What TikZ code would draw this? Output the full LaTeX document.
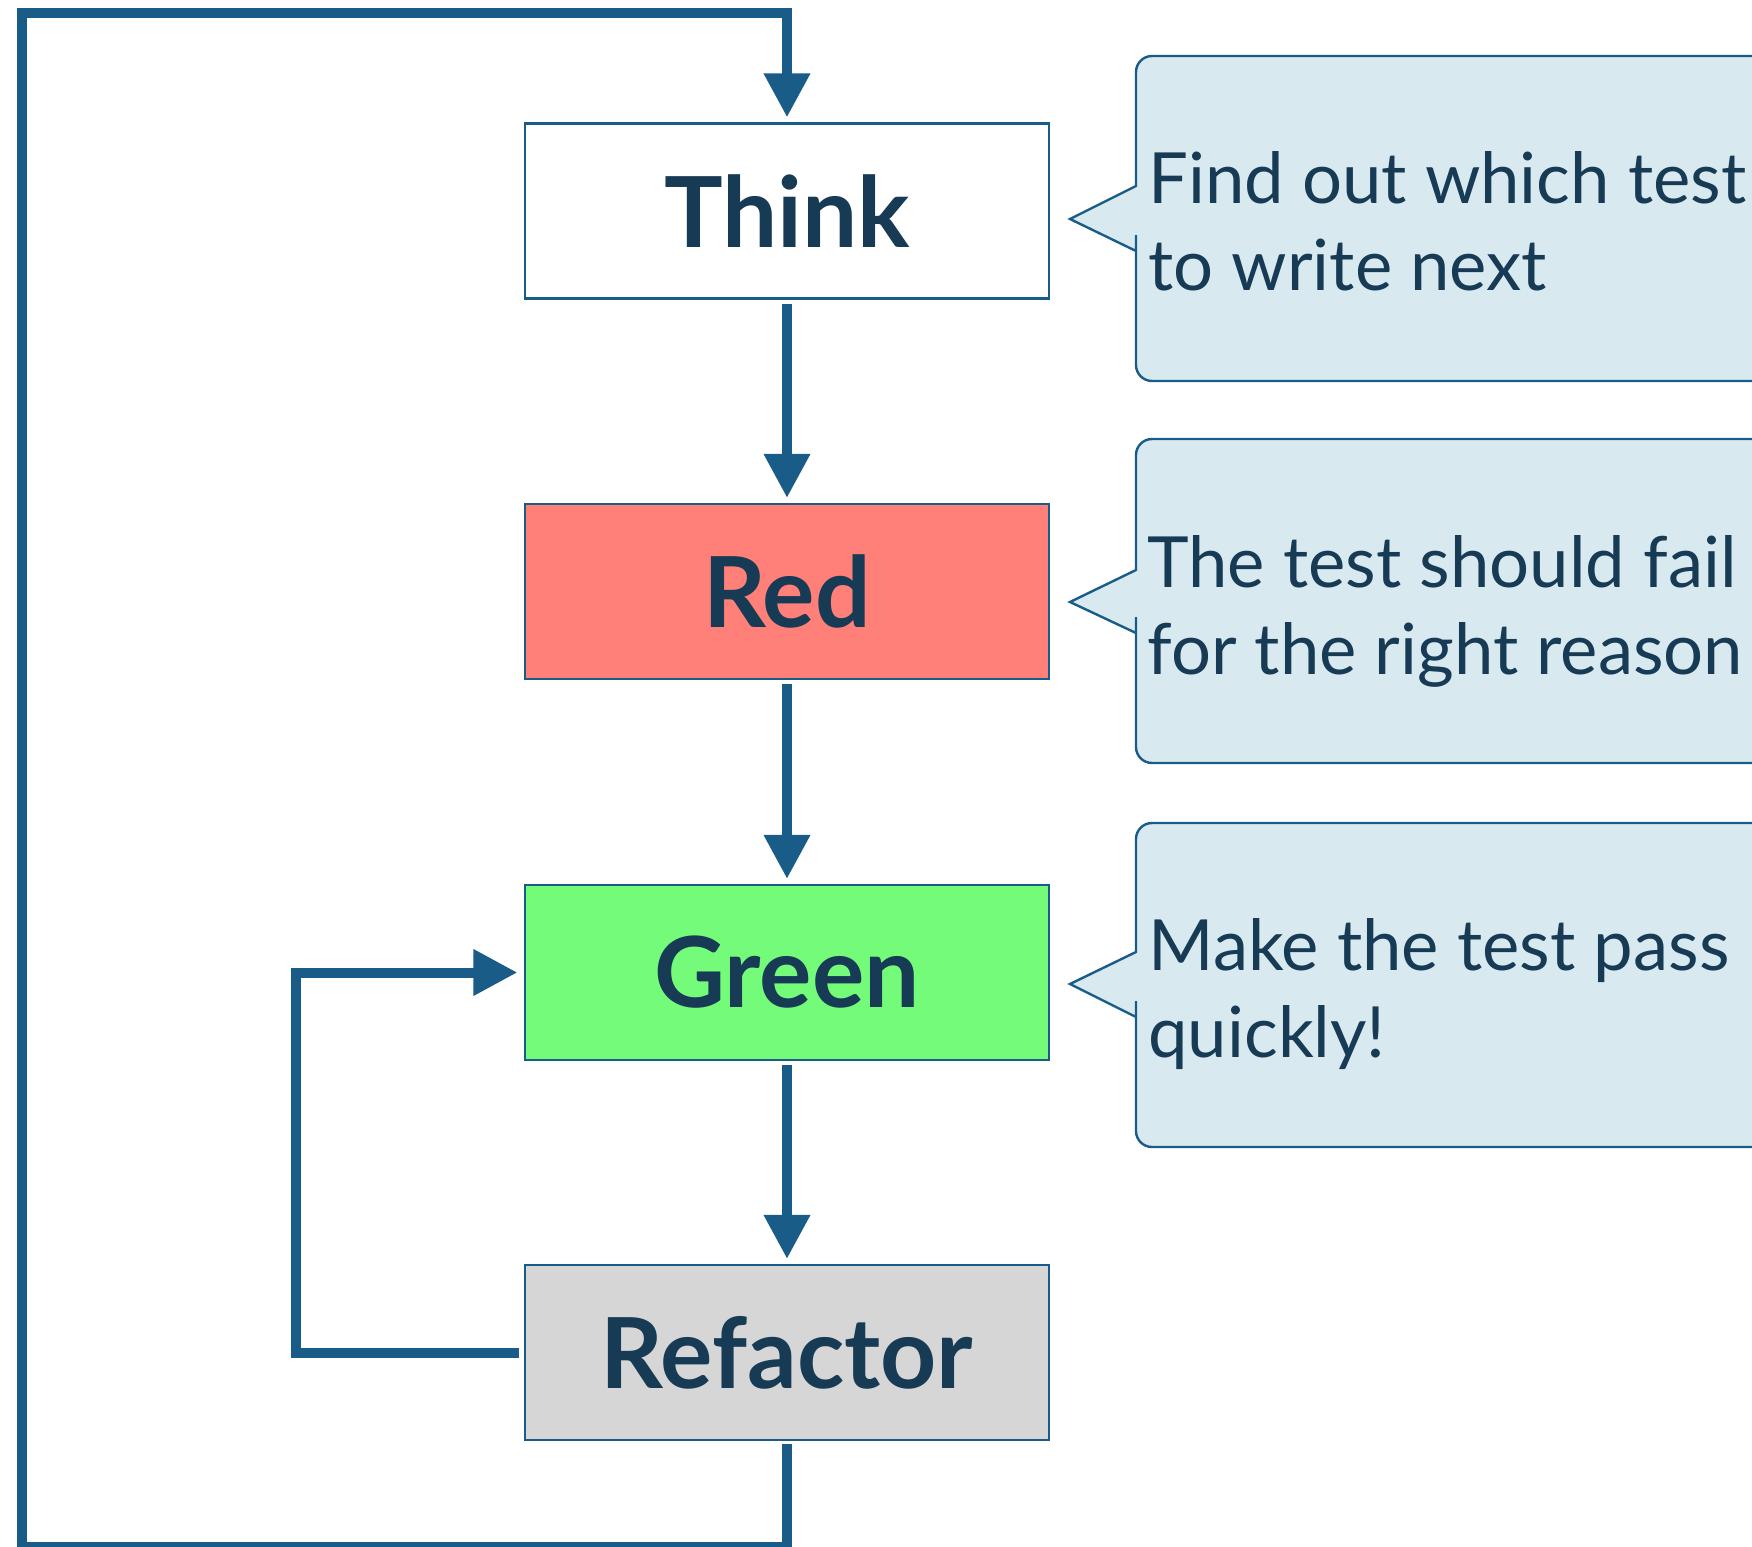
\documentclass[tikz,border=0pt]{standalone}
\usepackage{fontspec}
\setmainfont{Lato}
\usetikzlibrary{arrows.meta}
\definecolor{flowblue}{RGB}{26,92,136}
\definecolor{textnavy}{RGB}{23,58,85}
\definecolor{redfill}{RGB}{255,127,121}
\definecolor{greenfill}{RGB}{116,251,122}
\definecolor{grayfill}{RGB}{214,214,214}
\definecolor{callfill}{RGB}{216,234,240}
\begin{document}
\begin{tikzpicture}[x=0.5pt,y=-0.5pt,
  stepbox/.style={draw=flowblue, line width=1.1pt, minimum width=262pt, minimum height=87.5pt,
    inner sep=0pt, font=\fontsize{49}{58}\selectfont\bfseries, text=textnavy},
  flow/.style={draw=flowblue, line width=5pt, -{Triangle[length=22pt,width=22pt]}},
  calloutshape/.style={draw=flowblue, fill=callfill, line width=1.2pt},
  calltext/.style={anchor=base west, inner sep=0pt, text=textnavy, font=\fontsize{35.3}{43.5}\selectfont}]
\useasboundingbox (0,0) rectangle (1752,1547);

% step boxes
\node[stepbox, fill=white]     (think)    at (787,211)   {Think};
\node[stepbox, fill=redfill]   (red)      at (787,591.5) {Red};
\node[stepbox, fill=greenfill] (green)    at (787,972.5) {Green};
\node[stepbox, fill=grayfill]  (refactor) at (787,1352.5){Refactor};

% straight arrows
\draw[flow, shorten <=2pt, shorten >=2.5pt] (think.south) -- (red.north);
\draw[flow, shorten <=2pt, shorten >=2.5pt] (red.south) -- (green.north);
\draw[flow, shorten <=2pt, shorten >=2.5pt] (green.south) -- (refactor.north);

% inner feedback loop
\coordinate (fbx) at (296,0);
\draw[flow, shorten <=2.25pt, shorten >=3.25pt]
  (refactor.west) -- (fbx |- refactor.west) -- (fbx |- green.west) -- (green.west);

% outer loop
\coordinate (bl) at (22,1547);
\coordinate (tl) at (22,13);
\draw[flow, shorten <=1.25pt, shorten >=2.5pt]
  (refactor.south) -- (refactor.south |- bl) -- (bl) -- (tl) -- (think.north |- tl) -- (think.north);

% callouts
\draw[calloutshape] (1136,251) -- (1070,219) -- (1136,186) [rounded corners=8pt] -- (1136,56) -- (1800,56)
  -- (1800,381) -- (1136,381) -- (1136,251) [sharp corners] -- cycle;
\node[calltext] (c1) at (1148,203) {\begin{tabular}[t]{@{}l@{}}Find out which test\\to write next\end{tabular}};

\draw[calloutshape] (1136,633) -- (1070,602) -- (1136,570) [rounded corners=8pt] -- (1136,439) -- (1800,439)
  -- (1800,763) -- (1136,763) -- (1136,633) [sharp corners] -- cycle;
\node[calltext] (c2) at (1147,587) {\begin{tabular}[t]{@{}l@{}}The test should fail\\for the right reason\end{tabular}};

\draw[calloutshape] (1136,1017) -- (1070,984) -- (1136,952) [rounded corners=8pt] -- (1136,823) -- (1800,823)
  -- (1800,1147) -- (1136,1147) -- (1136,1017) [sharp corners] -- cycle;
\node[calltext] (c3) at (1148,970) {\begin{tabular}[t]{@{}l@{}}Make the test pass\\quickly!\end{tabular}};
\end{tikzpicture}
\end{document}
